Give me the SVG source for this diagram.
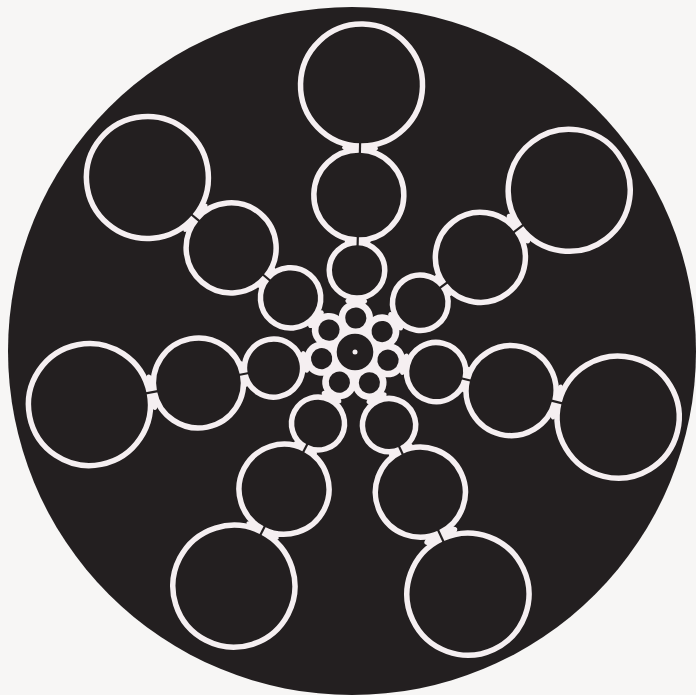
<svg xmlns="http://www.w3.org/2000/svg" width="696" height="695" viewBox="0 0 696 695">
<style>
.bg{fill:#f7f6f5}
.disc{fill:#231f20}
.c{fill:#231f20;stroke:#f5eff1;stroke-width:5.5}
.f{fill:#f5eff1}
.s{fill:#231f20}
</style>
<rect class="bg" x="0" y="0" width="696" height="695"/>
<circle id="disc" class="disc" cx="352" cy="351" r="344"/>
<g id="hub-white">
  <circle class="f" cx="355" cy="352" r="38"/>
  <g transform="translate(355 352)">
    <circle class="f" cx="34" cy="0" r="17.2" transform="rotate(-88.6)"/>
    <circle class="f" cx="34" cy="0" r="17.2" transform="rotate(-37.05)"/>
    <circle class="f" cx="34" cy="0" r="17.2" transform="rotate(13.9)"/>
    <circle class="f" cx="34" cy="0" r="17.2" transform="rotate(65)"/>
    <circle class="f" cx="34" cy="0" r="17.2" transform="rotate(117.35)"/>
    <circle class="f" cx="34" cy="0" r="17.2" transform="rotate(168.8)"/>
    <circle class="f" cx="34" cy="0" r="17.2" transform="rotate(220.05)"/>
  </g>
</g>
<g id="arm-top" transform="translate(355 352) rotate(-88.6)">
  <ellipse class="f" cx="51" cy="0" rx="4.5" ry="11"/>
  <ellipse class="f" cx="110.75" cy="0" rx="4" ry="13"/>
  <ellipse class="f" cx="204" cy="0" rx="5" ry="18"/>
  <circle id="top-3" class="c" cx="81.75" cy="0" r="27.75"/>
  <circle id="top-2" class="c" cx="157" cy="0" r="45"/>
  <circle id="top-1" class="c" cx="267" cy="0" r="61"/>
  <rect class="s" x="105.5" y="-1.1" width="10.5" height="2.2"/>
  <rect class="s" x="198.5" y="-1.1" width="11" height="2.2"/>
</g>
<g id="arm-upper-right" transform="translate(355 352) rotate(-37.05)">
  <ellipse class="f" cx="51" cy="0" rx="4.5" ry="11"/>
  <ellipse class="f" cx="110.85" cy="0" rx="4" ry="13"/>
  <ellipse class="f" cx="204.75" cy="0" rx="5.5" ry="18"/>
  <circle id="ur-3" class="c" cx="81.8" cy="0" r="27.8"/>
  <circle id="ur-2" class="c" cx="157.1" cy="0" r="45"/>
  <circle id="ur-1" class="c" cx="268.4" cy="0" r="61"/>
  <rect class="s" x="105.6" y="-1.1" width="10.5" height="2.2"/>
  <rect class="s" x="198.6" y="-1.1" width="12.3" height="2.2"/>
</g>
<g id="arm-right" transform="translate(355 352) rotate(13.9)">
  <ellipse class="f" cx="51" cy="0" rx="4.5" ry="11"/>
  <ellipse class="f" cx="114.55" cy="0" rx="4" ry="13"/>
  <ellipse class="f" cx="207.95" cy="0" rx="5" ry="18"/>
  <circle id="r-3" class="c" cx="83.65" cy="0" r="29.65"/>
  <circle id="r-2" class="c" cx="160.8" cy="0" r="45"/>
  <circle id="r-1" class="c" cx="271.1" cy="0" r="61"/>
  <rect class="s" x="109.3" y="-1.1" width="10.5" height="2.2"/>
  <rect class="s" x="202.3" y="-1.1" width="11.3" height="2.2"/>
</g>
<g id="arm-lower-right" transform="translate(355 352) rotate(65)">
  <ellipse class="f" cx="51" cy="0" rx="4.5" ry="11"/>
  <ellipse class="f" cx="108.45" cy="0" rx="4" ry="13"/>
  <ellipse class="f" cx="202.95" cy="0" rx="6" ry="18"/>
  <circle id="lr-3" class="c" cx="80.6" cy="0" r="26.6"/>
  <circle id="lr-2" class="c" cx="154.7" cy="0" r="45"/>
  <circle id="lr-1" class="c" cx="267.2" cy="0" r="61"/>
  <rect class="s" x="103.2" y="-1.1" width="10.5" height="2.2"/>
  <rect class="s" x="196.2" y="-1.1" width="13.5" height="2.2"/>
</g>
<g id="arm-lower-left" transform="translate(355 352) rotate(117.35)">
  <ellipse class="f" cx="51" cy="0" rx="4.5" ry="11"/>
  <ellipse class="f" cx="108.25" cy="0" rx="4" ry="13"/>
  <ellipse class="f" cx="201.05" cy="0" rx="4.5" ry="18"/>
  <circle id="ll-3" class="c" cx="80.5" cy="0" r="26.5"/>
  <circle id="ll-2" class="c" cx="154.5" cy="0" r="45"/>
  <circle id="ll-1" class="c" cx="263.6" cy="0" r="61"/>
  <rect class="s" x="103" y="-1.1" width="10.5" height="2.2"/>
  <rect class="s" x="196" y="-1.1" width="10.1" height="2.2"/>
</g>
<g id="arm-left" transform="translate(355 352) rotate(168.8)">
  <ellipse class="f" cx="51" cy="0" rx="4.5" ry="11"/>
  <ellipse class="f" cx="113.35" cy="0" rx="4" ry="13"/>
  <ellipse class="f" cx="207.15" cy="0" rx="5.5" ry="18"/>
  <circle id="l-3" class="c" cx="83.05" cy="0" r="29.05"/>
  <circle id="l-2" class="c" cx="159.6" cy="0" r="45"/>
  <circle id="l-1" class="c" cx="270.7" cy="0" r="61"/>
  <rect class="s" x="108.1" y="-1.1" width="10.5" height="2.2"/>
  <rect class="s" x="201.1" y="-1.1" width="12.1" height="2.2"/>
</g>
<g id="arm-upper-left" transform="translate(355 352) rotate(220.05)">
  <ellipse class="f" cx="51" cy="0" rx="4.5" ry="11"/>
  <ellipse class="f" cx="115.55" cy="0" rx="4" ry="13"/>
  <ellipse class="f" cx="208.5" cy="0" rx="4.5" ry="18"/>
  <circle id="ul-3" class="c" cx="84.15" cy="0" r="30.15"/>
  <circle id="ul-2" class="c" cx="161.8" cy="0" r="45"/>
  <circle id="ul-1" class="c" cx="271.2" cy="0" r="61"/>
  <rect class="s" x="110.3" y="-1.1" width="10.5" height="2.2"/>
  <rect class="s" x="203.3" y="-1.1" width="10.4" height="2.2"/>
</g>
<g id="hub-holes">
  <circle class="s" cx="355" cy="352" r="18.3"/>
  <g transform="translate(355 352)">
    <circle class="s" cx="34" cy="0" r="10.6" transform="rotate(-88.6)"/>
    <circle class="s" cx="34" cy="0" r="10.6" transform="rotate(-37.05)"/>
    <circle class="s" cx="34" cy="0" r="10.6" transform="rotate(13.9)"/>
    <circle class="s" cx="34" cy="0" r="10.6" transform="rotate(65)"/>
    <circle class="s" cx="34" cy="0" r="10.6" transform="rotate(117.35)"/>
    <circle class="s" cx="34" cy="0" r="10.6" transform="rotate(168.8)"/>
    <circle class="s" cx="34" cy="0" r="10.6" transform="rotate(220.05)"/>
  </g>
  <circle class="f" cx="355" cy="352" r="2.5"/>
</g>
</svg>
